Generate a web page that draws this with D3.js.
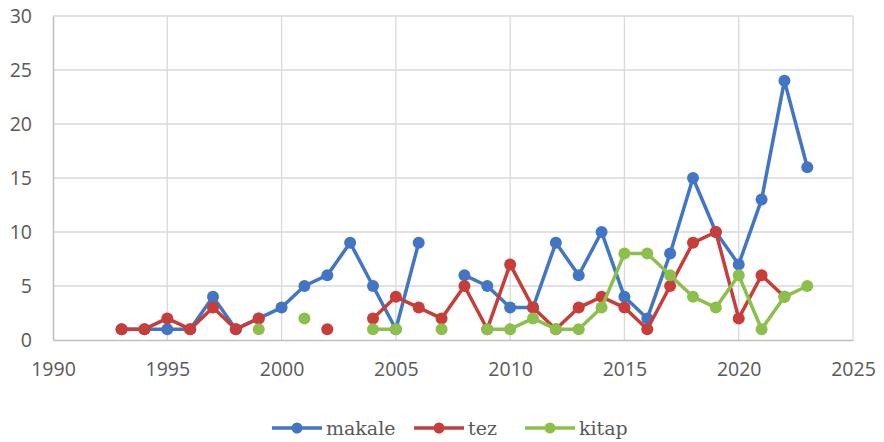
<!DOCTYPE html>
<html><head><meta charset="utf-8">
<script src="https://cdn.jsdelivr.net/npm/d3@7"></script>
<style>body{margin:0;background:#fff}svg{display:block}</style>
</head><body><svg id="c" width="884" height="442"></svg>
<script>
const years = d3.range(1993, 2024);
const makale = [1,1,1,1,4,1,2,3,5,6,9,5,1,9,null,6,5,3,3,9,6,10,4,2,8,15,10,7,13,24,16];
const tez    = [1,1,2,1,3,1,2,null,null,1,null,2,4,3,2,5,1,7,3,1,3,4,3,1,5,9,10,2,6,4,null];
const kitap  = [null,null,null,null,null,null,1,null,2,null,null,1,1,null,1,null,1,1,2,1,1,3,8,8,6,4,3,6,1,4,5];
const xTicks = [1990,1995,2000,2005,2010,2015,2020,2025];
const yTicks = [0,5,10,15,20,25,30];
const seriesNames = ["makale","tez","kitap"];
const colors = ["#4276C4","#C73D39","#8DBF4C"];

const svg = d3.select("#c");
const L=53,R=853,T=16,B=340;
const x = d3.scaleLinear().domain([1990,2025]).range([L,R]);
const y = d3.scaleLinear().domain([0,30]).range([B,T]);

const grid = svg.append("g");
grid.selectAll("line.h").data(yTicks.slice(1)).join("line")
  .attr("x1",L).attr("x2",R).attr("y1",d=>y(d)).attr("y2",d=>y(d))
  .attr("stroke","#d9d9d9").attr("stroke-width",1.3);
grid.selectAll("line.v").data(xTicks.slice(1)).join("line")
  .attr("y1",T).attr("y2",B).attr("x1",d=>x(d)).attr("x2",d=>x(d))
  .attr("stroke","#d9d9d9").attr("stroke-width",1.3);

const xa = svg.append("g").attr("transform",`translate(0,${B})`)
  .call(d3.axisBottom(x).tickValues(xTicks).tickFormat(d3.format("d")).tickSize(0).tickPadding(22));
const ya = svg.append("g").attr("transform",`translate(${L},0)`)
  .call(d3.axisLeft(y).tickValues(yTicks).tickSize(0).tickPadding(21));
[xa,ya].forEach(a=>{
  a.select(".domain").attr("stroke","#bfbfbf").attr("stroke-width",1.5);
  a.selectAll("text").attr("fill","#595959").style("font-family","'Open Sans',sans-serif").style("font-size","19.5px");
});

const data = [makale,tez,kitap];
data.forEach((vals,i)=>{
  const pts = years.map((yr,j)=>({yr,v:vals[j]}));
  const line = d3.line().defined(d=>d.v!=null).x(d=>x(d.yr)).y(d=>y(d.v));
  svg.append("path").datum(pts).attr("d",line).attr("fill","none")
    .attr("stroke",colors[i]).attr("stroke-width",3.5).attr("stroke-linejoin","round");
  svg.append("g").selectAll("circle").data(pts.filter(d=>d.v!=null)).join("circle")
    .attr("cx",d=>x(d.yr)).attr("cy",d=>y(d.v)).attr("r",6).attr("fill",colors[i]);
});

const legX = [272,414,525];
const lg = svg.append("g");
seriesNames.forEach((n,i)=>{
  const g = lg.append("g").attr("transform",`translate(${legX[i]},428)`);
  g.append("line").attr("x1",0).attr("x2",50).attr("stroke",colors[i]).attr("stroke-width",3.5);
  g.append("circle").attr("cx",25).attr("r",5.5).attr("fill",colors[i]);
  g.append("text").attr("x",54).attr("y",7).text(n).attr("fill","#595959")
    .style("font-family","'DejaVu Serif',serif").style("font-size","19px");
});
</script></body></html>
